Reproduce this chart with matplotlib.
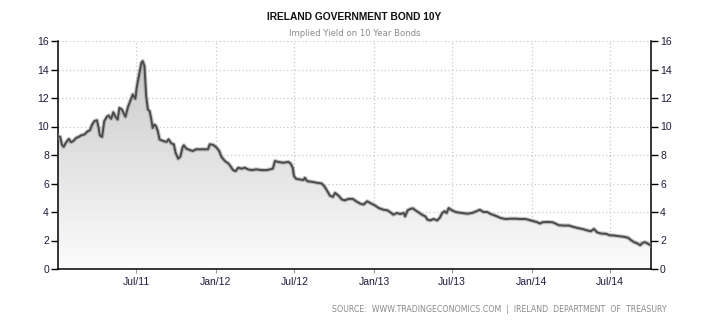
import matplotlib
matplotlib.use('Agg')
import matplotlib.pyplot as plt
import matplotlib.dates as mdates
from matplotlib.colors import LinearSegmentedColormap
import numpy as np
import pandas as pd

# days since 2011-01-01 and 10Y yield (%)
start = '2011-01-01'
days = [0, 5, 9, 13, 18, 25, 30, 35, 42, 48, 53, 61, 69, 74, 79, 84, 90, 94, 97,
        102, 107, 113, 117, 123, 128, 133, 138, 142, 148, 156, 162, 167, 173, 179,
        182, 187, 193, 196, 200, 204, 208, 212, 216, 219, 223, 227, 231, 235,
        243, 251, 256, 262, 268, 272, 278, 283, 288, 291, 297, 305, 312, 319, 328,
        339, 347, 351, 359, 367, 373, 378, 386, 394, 399, 405, 411, 417, 425, 432,
        440, 448, 459, 471, 483,
        490, 497, 502, 510, 521, 533, 538, 543, 546, 551, 560, 568, 571, 577, 587,
        599, 610, 616, 622, 629, 636, 641, 649, 657, 664, 672, 682, 690, 699, 707,
        715, 722, 734, 742, 753, 762, 769,
        776, 784, 792, 800, 803, 809, 815, 821, 827, 834, 842, 850, 855, 861, 869,
        877, 883, 889, 894, 899, 904, 909, 916, 923, 935, 947, 958, 968, 976, 984,
        993, 1001, 1012, 1024, 1035, 1047, 1059, 1070,
        1082, 1093, 1101, 1109, 1115, 1121, 1132, 1144, 1151, 1159, 1171, 1182,
        1193, 1202, 1213, 1223, 1233, 1240, 1247, 1256, 1268, 1276, 1287, 1298,
        1310, 1319, 1326, 1333, 1341, 1347, 1353, 1358, 1364, 1372]
yields = [9.32, 9.27, 8.74, 8.57, 8.85, 9.13, 8.9, 8.97, 9.2, 9.27, 9.37, 9.44, 9.67,
          9.74, 10.14, 10.37, 10.44, 9.9, 9.37, 9.27, 10.37, 10.68, 10.77, 10.54,
          11.0, 10.68, 10.49, 11.31, 11.19, 10.68, 11.38, 11.78, 12.25, 11.94, 12.72,
          13.54, 14.47, 14.59, 14.24, 12.13, 11.19, 11.08, 10.49, 9.9, 10.14, 10.02,
          9.67, 9.09,
          8.99, 8.92, 9.1, 8.82, 8.75, 8.16, 7.74, 7.88, 8.52, 8.68, 8.45, 8.35, 8.28,
          8.4, 8.4, 8.4, 8.4, 8.75, 8.71, 8.52, 8.28, 7.88, 7.58, 7.41, 7.22, 6.94,
          6.87, 7.11, 7.04, 7.11, 6.99, 6.94, 6.99, 6.94, 6.94,
          6.99, 7.04, 7.58, 7.51, 7.46, 7.51, 7.41, 7.11, 6.52, 6.33, 6.28, 6.24, 6.4,
          6.16, 6.12, 6.05, 6.0, 5.81, 5.53, 5.15, 5.06, 5.34, 5.15, 4.87, 4.82, 4.92,
          4.92, 4.75, 4.59, 4.52, 4.75, 4.64, 4.45, 4.28, 4.16, 4.12, 3.98,
          3.81, 3.93, 3.86, 3.93, 3.69, 4.12, 4.21, 4.26, 4.12, 3.98, 3.81, 3.69, 3.46,
          3.41, 3.51, 3.41, 3.58, 3.93, 4.05, 3.93, 4.28, 4.16, 4.05, 3.98, 3.93, 3.88,
          3.93, 4.05, 4.16, 4.0, 4.0, 3.86, 3.74, 3.58, 3.51, 3.53, 3.53, 3.51,
          3.51, 3.42, 3.35, 3.28, 3.19, 3.28, 3.3, 3.28, 3.19, 3.07, 3.05, 3.05, 2.95,
          2.88, 2.81, 2.72, 2.65, 2.81, 2.58, 2.49, 2.47, 2.37, 2.35, 2.3, 2.26, 2.19,
          2.02, 1.88, 1.79, 1.67, 1.84, 1.88, 1.79, 1.65]
tick_labels = ['Jul/11', 'Jan/12', 'Jul/12', 'Jan/13', 'Jul/13', 'Jan/14', 'Jul/14']
y_ticks = [0, 2, 4, 6, 8, 10, 12, 14, 16]

dates = pd.Timestamp(start) + pd.to_timedelta(days, unit='D')
tick_dates = pd.to_datetime(tick_labels, format='%b/%y')

fig = plt.figure(figsize=(7.1, 3.25), dpi=100)
ax = fig.add_axes([58 / 710, 1 - 269 / 325, (651 - 58) / 710, (269 - 41) / 325])

# gradient fill under the line
poly = ax.fill_between(dates, yields, 0, facecolor='none', edgecolor='none')
cmap = LinearSegmentedColormap.from_list('g', ['#fcfcfc', '#c6c6c6'])
grad = np.linspace(0, 1, 256).reshape(-1, 1)
x0, x1 = mdates.date2num(dates[0]), mdates.date2num(dates[-1])
img = ax.imshow(grad, extent=[x0, x1, 0, 16], origin='lower', aspect='auto',
                cmap=cmap, zorder=1)
img.set_clip_path(poly.get_paths()[0], transform=ax.transData)

# line with soft shadow
ax.plot(dates, yields, color='#9a9a9a', lw=3.0, alpha=0.6, zorder=3,
        solid_joinstyle='round')
ax.plot(dates, yields, color='#4a4a4a', lw=1.4, zorder=4, solid_joinstyle='round')

ax.set_xlim(dates[0], dates[-1])
ax.set_ylim(0, 16)
ax.set_xticks(tick_dates)
ax.set_xticklabels(tick_labels)
ax.set_yticks(y_ticks)
ax.set_yticklabels([str(v) for v in y_ticks])

ax.grid(True, color='#c8c8c8', linestyle=(0, (1, 2)), lw=0.9, zorder=0)
ax.set_axisbelow(True)
ax.spines['top'].set_visible(False)
for s in ['left', 'right', 'bottom']:
    ax.spines[s].set_color('black')
    ax.spines[s].set_linewidth(1.1)

ax.tick_params(axis='y', which='both', direction='out', length=5, width=1,
               labelsize=7.5, labelcolor='#1c1c3c', left=True, right=True,
               labelleft=True, labelright=True, pad=1.5)
ax.tick_params(axis='x', direction='out', length=3, width=0.8, color='#999999',
               labelsize=7.5, labelcolor='#1c1c3c', pad=3)
for lab in ax.get_xticklabels() + ax.yaxis.get_ticklabels(which='both'):
    lab.set_family('Liberation Sans')

fig.text(354.5 / 710, 1 - 17 / 325, 'IRELAND GOVERNMENT BOND 10Y', ha='center',
         va='center', fontsize=7.4, fontweight='bold', color='#111111',
         family='Liberation Sans')
fig.text(354.5 / 710, 1 - 33 / 325, 'Implied Yield on 10 Year Bonds', ha='center',
         va='center', fontsize=6.1, color='#8a8a8a', family='DejaVu Sans')
fig.text(667 / 710, 1 - 310 / 325,
         'SOURCE:  WWW.TRADINGECONOMICS.COM  |  IRELAND  DEPARTMENT  OF  TREASURY',
         ha='right', va='center', fontsize=5.7, color='#8a8a8a', family='DejaVu Sans')

fig.savefig('out.png', dpi=100)
